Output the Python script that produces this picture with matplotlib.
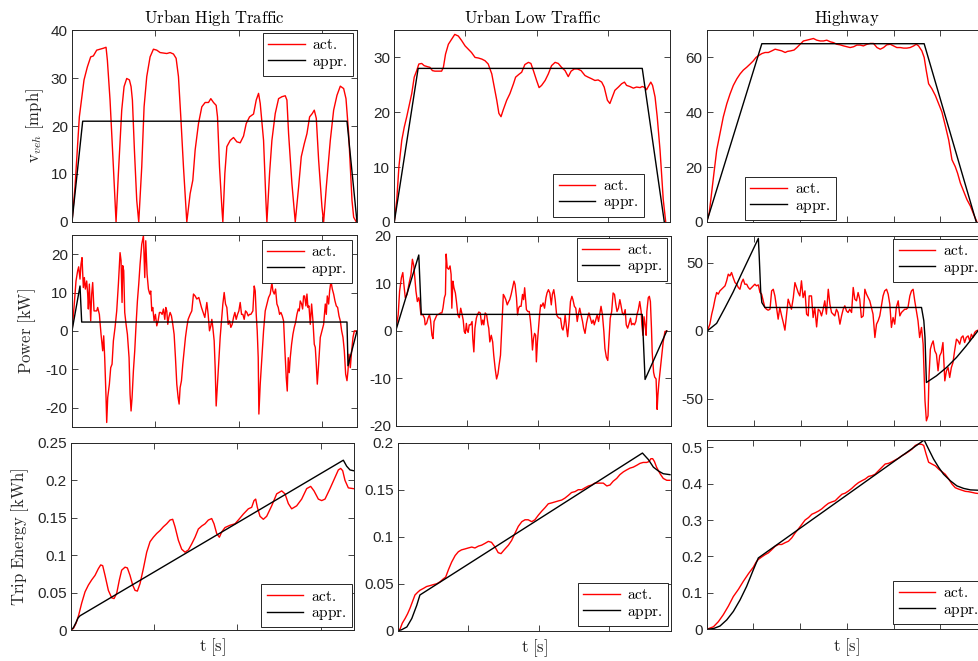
import matplotlib.pyplot as plt
from matplotlib.ticker import MultipleLocator, FuncFormatter, NullFormatter

plt.rcParams['mathtext.fontset'] = 'cm'
plt.rcParams['font.family'] = ['Liberation Sans', 'DejaVu Sans']
plt.rcParams['axes.unicode_minus'] = False

AX_COLOR = '#262626'

# ---------------- Urban high traffic ----------------
uh_v_t = [0, 9, 22, 36, 46, 56, 64, 74, 84, 94,
          102, 106, 114, 124, 132, 139, 149, 156, 164, 172,
          177, 181, 187, 194, 200, 209, 216, 224, 234, 244,
          254, 264, 284, 294, 304, 312, 319, 326, 334, 344,
          354, 362, 369, 379, 389, 399, 409, 416, 424, 432,
          436, 442, 449, 452, 458, 464, 474, 484, 494, 504,
          514, 522, 532, 544, 552, 559, 564, 574, 581, 584,
          592, 599, 609, 619, 629, 639, 644, 649, 659, 669,
          679, 687, 696, 704, 712, 720, 726, 732, 739, 749,
          754, 762, 774, 784, 794, 804, 814, 821, 829, 839,
          844, 852]
uh_v_act = [0, 7.3, 21.9, 29.6, 32.3, 34.4, 34.6, 35.8, 36.0, 36.2,
            36.4, 33.7, 25.4, 11.5, 0, 10.1, 23.3, 28.2, 29.9, 29.6,
            28.2, 25.4, 15.0, 4.5, 0, 11.5, 24.0, 30.3, 34.4, 36.0,
            35.8, 35.3, 35.1, 35.3, 35.0, 34.1, 30.3, 21.9, 11.5, 0,
            5.9, 8.7, 15.0, 20.5, 24.0, 24.9, 24.9, 25.7, 24.9, 24.3,
            21.9, 11.5, 3.1, 0, 10.1, 15.7, 17.0, 17.6, 16.7, 16.5,
            17.9, 20.5, 21.9, 22.5, 25.4, 26.8, 24.7, 17.0, 4.5, 0,
            10.1, 17.0, 22.6, 25.7, 26.1, 26.3, 25.4, 18.4, 8.0, 0,
            7.3, 13.6, 16.3, 18.4, 21.9, 22.6, 23.3, 21.6, 12.9, 3.1,
            0, 7.3, 17.0, 23.3, 26.4, 28.3, 27.8, 25.7, 18.4, 4.5,
            1.0, 0]
uh_v_appr_t = [0, 32, 824, 854]
uh_v_appr = [0, 21, 21, 0]

uh_p_t = [0, 6, 12, 17, 20, 24, 27, 30, 34, 37,
          40, 44, 47, 49, 52, 56, 59, 62, 66, 70,
          74, 77, 82, 87, 92, 95, 98, 102, 104, 107,
          112, 116, 120, 124, 129, 134, 139, 144, 147, 150,
          152, 155, 158, 162, 166, 171, 174, 177, 180, 184,
          188, 192, 196, 200, 204, 209, 214, 218, 221, 225,
          229, 233, 236, 239, 242, 246, 250, 254, 258, 262,
          266, 270, 274, 278, 281, 284, 287, 290, 294, 298,
          302, 306, 310, 314, 318, 321, 324, 328, 332, 336,
          340, 344, 348, 354, 359, 364, 369, 374, 380, 384,
          388, 393, 398, 404, 408, 412, 416, 419, 422, 426,
          429, 432, 436, 440, 444, 448, 452, 456, 460, 464,
          468, 472, 476, 480, 484, 488, 492, 496, 500, 504,
          508, 512, 516, 520, 524, 528, 532, 536, 542, 546,
          549, 552, 555, 558, 560, 564, 569, 574, 579, 584,
          589, 594, 599, 602, 606, 610, 614, 618, 622, 626,
          630, 634, 638, 642, 645, 648, 651, 654, 658, 662,
          666, 670, 674, 678, 681, 684, 688, 691, 694, 697,
          701, 704, 707, 710, 714, 718, 722, 726, 729, 732,
          735, 739, 744, 749, 754, 759, 762, 765, 769, 772,
          776, 780, 784, 788, 792, 796, 800, 804, 808, 812,
          816, 820, 824, 827, 830, 834, 838, 842, 846, 850, 854]
uh_p_act = [0, 6.1, 13.0, 15.7, 16.7, 13.5, 17.4, 19.1, 11.3, 13.9,
            10.9, 13.0, 9.6, 5.7, 12.2, 2.6, 9.6, 12.6, 5.2, 5.2,
            5.2, 6.1, 4.3, -0.9, -5.2, -1.3, -7.0, -17.4, -23.9, -17.4,
            -13.9, -9.6, -8.7, -2.6, 0.9, 5.2, 12.2, 20.4, 18.3, 7.4,
            17.0, 15.7, 4.8, 1.7, -0.9, -7.0, -16.5, -20.9, -17.4, -10.4,
            -5.2, 1.7, 7.8, 12.2, 17.4, 22.6, 24.8, 13.9, 23.5, 14.8,
            10.9, 9.6, 10.4, 5.2, 6.1, 2.6, 4.3, 1.3, 2.6, 4.8,
            4.8, 4.3, 5.7, 3.0, 6.1, 5.2, 1.7, 3.5, 4.8, 3.9,
            1.7, -0.9, -7.0, -13.9, -17.4, -19.1, -14.8, -13.0, -8.7, -5.2,
            -1.7, 0.9, 3.0, 4.3, 5.2, 9.6, 9.1, 8.3, 8.7, 7.4,
            6.1, 4.8, 3.5, 7.4, 4.3, 0, 1.3, 3.0, 0.9, -2.6,
            -9.6, -19.6, -13.9, -7.8, -1.7, 2.6, 7.0, 10.0, 7.0, 6.1,
            1.7, 2.6, 0.9, 1.7, 3.5, 4.8, 3.0, 4.3, 5.2, 7.4,
            4.3, 4.3, 3.0, 5.2, 4.8, 3.9, 4.3, 4.3, 5.2, 11.7,
            10.4, 4.3, 0, -7.0, -21.7, -13.9, -7.0, 0, 5.2, 7.0,
            8.7, 9.6, 12.6, 10.4, 9.6, 10.9, 7.0, 6.1, 4.3, 4.8,
            3.9, 2.6, -5.2, -12.2, -15.7, -7.0, -10.9, -7.0, -3.5, -0.9,
            0.9, 2.2, 4.3, 5.7, 5.2, 7.8, 7.0, 5.7, 9.1, 9.1,
            6.5, 9.6, 6.1, 6.5, 1.7, 7.0, 2.6, -3.5, -4.3, -8.7,
            -13.9, -8.7, -1.7, 0, 1.7, 7.0, 4.3, 9.1, 7.0, 10.4,
            13.0, 10.9, 9.6, 7.8, 6.5, 6.1, 3.9, 2.6, 0, -1.7,
            -5.2, -11.3, -13.0, -10.4, -6.1, -9.6, -5.2, -1.7, 0, 0, -0.4]
uh_p_appr_t = [0, 24, 29, 824, 827, 854]
uh_p_appr = [0, 11.7, 2.3, 2.3, -9.1, 0]

uh_e_t = [0, 8, 16, 24, 33, 43, 53, 63, 73, 83,
          90, 96, 103, 113, 123, 130, 138, 146, 153, 163,
          170, 178, 186, 193, 200, 208, 218, 228, 238, 248,
          258, 268, 278, 288, 298, 306, 313, 323, 333, 343,
          353, 363, 373, 383, 393, 403, 413, 423, 430, 438,
          446, 453, 463, 478, 493, 503, 518, 533, 543, 550,
          555, 560, 568, 578, 588, 603, 618, 633, 643, 653,
          663, 678, 693, 708, 720, 730, 743, 753, 763, 778,
          793, 803, 810, 816, 823, 833, 848]
uh_e_act = [0, 0.002, 0.009, 0.020, 0.036, 0.051, 0.060, 0.067, 0.073, 0.082,
            0.087, 0.086, 0.073, 0.053, 0.043, 0.042, 0.049, 0.067, 0.080, 0.084,
            0.083, 0.073, 0.060, 0.053, 0.052, 0.062, 0.082, 0.104, 0.118, 0.124,
            0.129, 0.133, 0.138, 0.142, 0.147, 0.148, 0.138, 0.120, 0.108, 0.104,
            0.107, 0.115, 0.124, 0.135, 0.139, 0.142, 0.147, 0.149, 0.142, 0.129,
            0.124, 0.131, 0.137, 0.140, 0.142, 0.147, 0.155, 0.162, 0.164, 0.173,
            0.175, 0.164, 0.152, 0.148, 0.152, 0.166, 0.182, 0.186, 0.182, 0.169,
            0.162, 0.166, 0.175, 0.189, 0.192, 0.186, 0.175, 0.173, 0.175, 0.189,
            0.204, 0.214, 0.216, 0.213, 0.200, 0.190, 0.189]
uh_e_appr_t = [0, 8, 16, 22, 28, 818, 828, 838, 848]
uh_e_appr = [0, 0.003, 0.010, 0.016, 0.019, 0.227, 0.219, 0.214, 0.213]

# ---------------- Urban low traffic ----------------
ul_v_t = [0, 7, 13, 21, 28, 35, 41, 49, 56, 63,
          69, 77, 84, 94, 100, 107, 114, 124, 133, 138,
          144, 152, 161, 170, 180, 189, 199, 208, 217, 227,
          236, 246, 255, 264, 274, 281, 288, 294, 300, 306,
          316, 325, 335, 341, 350, 358, 367, 377, 384, 391,
          400, 407, 414, 424, 433, 442, 452, 461, 470, 480,
          489, 497, 506, 515, 525, 536, 545, 555, 564, 573,
          583, 590, 599, 606, 613, 620, 630, 639, 647, 653,
          662, 672, 681, 691, 697, 705, 709, 714, 721, 726,
          733, 739, 747, 756, 763]
ul_v_act = [0, 4.1, 10.1, 14.9, 17.3, 19.2, 21.0, 23.4, 26.4, 27.6,
            28.8, 28.9, 28.5, 28.3, 28.2, 27.6, 27.5, 27.5, 27.5, 28.2,
            30.6, 32.4, 33.3, 34.2, 33.9, 33.1, 32.1, 31.5, 30.9, 30.0,
            29.9, 29.7, 29.4, 28.8, 27.0, 24.6, 22.2, 19.8, 19.2, 20.4,
            22.2, 23.4, 25.2, 26.4, 26.9, 27.3, 28.7, 29.1, 28.9, 27.6,
            25.8, 24.5, 24.9, 25.8, 27.0, 28.5, 29.1, 28.9, 28.2, 27.6,
            26.5, 27.5, 27.9, 27.9, 27.6, 26.7, 26.4, 26.1, 25.8, 25.9,
            25.5, 24.6, 22.2, 21.6, 22.8, 24.0, 24.6, 25.2, 25.5, 24.9,
            24.7, 24.4, 24.6, 24.5, 24.7, 24.5, 24.1, 24.7, 25.5, 24.9,
            22.8, 19.2, 13.1, 4.1, 0]
ul_v_appr_t = [0, 67, 697, 759]
ul_v_appr = [0, 28, 28, 0]

ul_p_t = [0, 7, 11, 16, 20, 23, 27, 32, 37, 39,
          43, 47, 51, 53, 57, 61, 65, 67, 71, 76,
          81, 83, 87, 91, 95, 98, 102, 105, 108, 112,
          116, 121, 126, 130, 133, 137, 140, 142, 145, 149,
          153, 156, 158, 161, 164, 168, 171, 175, 179, 183,
          186, 190, 193, 196, 199, 201, 204, 207, 211, 215,
          217, 220, 223, 227, 230, 234, 238, 242, 245, 248,
          252, 256, 260, 262, 265, 269, 273, 276, 280, 284,
          288, 291, 295, 299, 303, 306, 310, 314, 318, 321,
          325, 329, 333, 336, 340, 343, 346, 349, 353, 357,
          360, 363, 365, 368, 372, 376, 379, 382, 385, 388,
          391, 394, 396, 399, 402, 405, 408, 411, 415, 419,
          423, 426, 430, 434, 438, 441, 445, 449, 453, 456,
          460, 464, 468, 471, 474, 477, 481, 484, 488, 492,
          496, 499, 503, 507, 511, 514, 518, 522, 526, 529,
          533, 537, 541, 544, 548, 552, 556, 559, 563, 567,
          571, 574, 578, 582, 586, 589, 593, 597, 601, 604,
          608, 612, 616, 619, 623, 627, 631, 634, 638, 642,
          646, 649, 653, 657, 661, 664, 668, 672, 676, 679,
          683, 687, 691, 693, 696, 699, 702, 705, 707, 711,
          714, 717, 720, 722, 726, 729, 733, 736, 738, 741,
          745, 749, 753, 758, 763]
ul_p_act = [0, 3.4, 8.4, 11.2, 12.3, 9.8, 7.0, 7.7, 9.8, 10.5,
            11.9, 15.1, 13.7, 11.9, 8.4, 6.2, 7.0, 6.2, 3.4, 3.5,
            2.7, 1.3, 1.6, 2.7, 3.4, 2.3, -0.9, -1.6, 2.0, 2.7,
            3.4, 3.5, 3.8, 3.8, 4.8, 7.0, 7.7, 16.2, 13.3, 13.0,
            13.7, 11.9, 4.8, 10.5, 9.1, 8.0, 6.2, 3.4, 2.8, 4.8,
            3.8, 2.3, -0.1, -0.5, 1.6, 0.2, -0.3, 1.3, 1.3, 2.0,
            -1.6, -4.4, 0.6, 2.7, 3.4, 4.0, 3.8, 1.3, 2.3, 1.3,
            3.8, 3.4, 1.3, 0.6, -2.3, -0.9, -2.3, -5.1, -7.9, -10.1,
            -9.0, -7.2, -5.1, 1.3, 7.7, 7.3, 6.6, 5.5, 6.2, 6.6,
            7.7, 9.1, 10.5, 9.8, 7.0, 3.4, 4.8, 5.2, 5.2, 7.7,
            6.6, 9.1, 7.3, 4.5, 4.1, 4.1, 2.3, -0.1, -4.0, -1.6,
            -0.5, -0.9, -6.5, -2.3, 0.6, 3.4, 5.5, 5.2, 5.9, 4.8,
            7.0, 8.0, 8.7, 8.0, 5.5, 7.7, 8.7, 6.6, 3.4, 3.0,
            2.7, 2.7, 0.6, 0.2, 1.3, 3.4, 0.6, -1.2, 2.0, 6.2,
            7.3, 6.6, 5.2, 4.8, 2.0, 3.4, 4.8, 3.4, 2.0, 0.6,
            -0.5, 1.6, 3.0, 3.8, 2.7, 1.6, 2.3, 1.3, 2.3, 3.4,
            2.0, 3.4, 5.2, 3.4, -0.1, -3.7, -5.5, -6.2, -0.9, 2.7,
            4.1, 8.0, 7.7, 5.9, 4.1, 4.8, 6.6, 5.5, 3.8, 3.4,
            4.5, 1.3, 0.6, 1.6, 2.7, 1.3, 1.6, 1.3, 2.0, 3.4,
            4.5, 6.2, 4.1, 1.3, -0.9, 3.0, 1.3, -0.9, 4.1, 7.0,
            7.3, 6.2, 0.6, -4.4, -8.7, -9.7, -10.1, -16.5, -13.6, -10.8,
            -7.9, -5.1, -2.3, -0.1, 0]
ul_p_appr_t = [0, 65, 72, 694, 702, 763]
ul_p_appr = [0, 16.0, 3.5, 3.5, -10.2, 0]

ul_e_t = [0, 7, 13, 21, 28, 35, 42, 49, 57, 63,
          73, 82, 92, 101, 111, 120, 129, 136, 144, 153,
          163, 172, 181, 191, 200, 210, 219, 229, 238, 248,
          257, 266, 276, 285, 293, 302, 314, 323, 333, 342,
          352, 361, 370, 380, 389, 399, 408, 418, 427, 437,
          446, 455, 465, 474, 484, 493, 503, 512, 522, 531,
          541, 550, 559, 574, 583, 593, 602, 611, 621, 630,
          640, 649, 659, 668, 678, 687, 696, 706, 713, 718,
          723, 728, 734, 744, 753, 763, 772]
ul_e_act = [0, 0.002, 0.008, 0.013, 0.018, 0.024, 0.031, 0.038, 0.041, 0.043,
            0.045, 0.047, 0.048, 0.049, 0.050, 0.052, 0.055, 0.057, 0.065, 0.073,
            0.080, 0.084, 0.086, 0.087, 0.088, 0.089, 0.088, 0.090, 0.091, 0.093,
            0.095, 0.094, 0.089, 0.083, 0.082, 0.086, 0.091, 0.096, 0.104, 0.111,
            0.116, 0.118, 0.118, 0.116, 0.118, 0.123, 0.127, 0.131, 0.135, 0.136,
            0.137, 0.138, 0.139, 0.141, 0.144, 0.147, 0.148, 0.150, 0.150, 0.152,
            0.154, 0.155, 0.157, 0.157, 0.157, 0.154, 0.155, 0.159, 0.162, 0.166,
            0.169, 0.171, 0.173, 0.174, 0.176, 0.178, 0.179, 0.179, 0.180, 0.183,
            0.183, 0.180, 0.174, 0.167, 0.162, 0.160, 0.160]
ul_e_appr_t = [0, 11, 26, 40, 54, 63, 694, 711, 725, 739, 753, 772]
ul_e_appr = [0, 0.001, 0.004, 0.013, 0.027, 0.038, 0.189, 0.182, 0.174, 0.170, 0.167, 0.166]

# ---------------- Highway ----------------
hw_v_t = [0, 11, 21, 31, 43, 57, 71, 86, 100, 114,
          129, 143, 157, 171, 186, 200, 211, 221, 236, 250,
          264, 279, 293, 307, 321, 336, 346, 360, 374, 386,
          400, 414, 429, 443, 457, 471, 486, 500, 514, 529,
          543, 557, 571, 586, 600, 614, 629, 643, 657, 671,
          686, 700, 714, 729, 743, 757, 771, 786, 800, 814,
          829, 843, 857, 871, 886, 897, 907, 921, 931, 940,
          950, 964, 979, 993, 1007, 1021, 1036, 1050, 1064, 1074,
          1086, 1100, 1114, 1129, 1143, 1157]
hw_v_act = [0, 3.4, 10.6, 17.8, 26.3, 32.3, 38.3, 43.1, 46.7, 49.8,
            52.2, 54.0, 55.4, 56.4, 57.6, 58.8, 60.0, 60.6, 61.4, 61.8,
            61.8, 62.4, 63.0, 62.7, 62.4, 61.8, 62.2, 62.4, 62.7, 63.6,
            64.8, 66.0, 66.3, 66.6, 66.9, 66.3, 66.0, 66.0, 66.3, 65.7,
            65.4, 64.8, 64.6, 64.2, 63.9, 63.6, 63.9, 64.5, 64.5, 64.2,
            64.8, 65.1, 65.1, 63.6, 63.0, 63.6, 64.6, 64.8, 64.2, 63.6,
            63.6, 63.4, 63.4, 63.6, 64.2, 64.8, 64.2, 62.4, 60.0, 55.2,
            50.4, 48.6, 46.1, 43.1, 40.1, 35.3, 29.9, 22.7, 20.2, 17.8,
            14.2, 11.2, 8.2, 5.8, 2.8, 0]
hw_v_appr_t = [0, 236, 931, 1154]
hw_v_appr = [0, 65, 65, 0]

hw_p_t = [0, 11, 19, 26, 33, 40, 47, 54, 61, 69,
          76, 83, 90, 97, 104, 111, 119, 126, 133, 140,
          147, 154, 161, 169, 176, 183, 190, 197, 204, 211,
          219, 226, 233, 240, 247, 254, 261, 269, 276, 283,
          290, 297, 304, 311, 319, 326, 333, 340, 347, 354,
          361, 369, 376, 383, 390, 397, 404, 411, 419, 426,
          433, 437, 447, 454, 461, 469, 476, 483, 490, 497,
          504, 511, 519, 526, 533, 540, 547, 554, 561, 569,
          576, 583, 590, 597, 604, 611, 619, 626, 633, 640,
          647, 654, 661, 669, 676, 683, 690, 697, 704, 711,
          719, 726, 733, 740, 747, 754, 761, 769, 776, 783,
          790, 797, 804, 811, 819, 826, 833, 840, 847, 854,
          861, 869, 876, 883, 890, 897, 904, 911, 919, 926,
          930, 934, 940, 947, 951, 957, 963, 969, 976, 983,
          990, 997, 1004, 1011, 1019, 1026, 1033, 1040, 1047, 1054,
          1061, 1069, 1076, 1083, 1090, 1097, 1104, 1111, 1119, 1126,
          1133, 1140, 1147, 1154, 1161]
hw_p_act = [0, 4.9, 12.3, 17.2, 23.3, 28.2, 27.0, 29.4, 30.6, 31.9,
            33.1, 36.8, 41.7, 40.4, 42.9, 39.2, 35.5, 34.3, 31.9, 30.6,
            35.5, 38.0, 34.3, 34.3, 31.9, 30.6, 31.9, 33.1, 34.3, 33.1,
            33.8, 28.2, 27.0, 22.1, 17.2, 15.9, 15.2, 15.9, 29.4, 30.6,
            25.7, 17.2, 8.6, 17.2, 11.0, 6.1, 0.5, 12.3, 23.3, 19.6,
            15.9, 24.5, 35.5, 31.9, 28.2, 25.7, 36.8, 24.5, 29.4, 12.3,
            11.0, 25.7, 25.7, 9.8, 17.2, 2.9, 15.9, 14.7, 11.0, 15.9,
            22.1, 12.3, 30.6, 19.6, 13.5, 12.3, 11.0, 15.9, 13.5, 4.9,
            11.0, 15.9, 18.4, 14.7, 13.5, 15.9, 13.5, 31.9, 23.3, 22.1,
            28.2, 23.3, 9.8, 11.0, 30.6, 27.0, 24.5, 22.1, 17.2, 12.3,
            -4.9, 4.9, 7.4, 11.0, 18.4, 25.7, 29.4, 30.6, 27.0, 19.6,
            2.5, 9.8, 4.9, 17.2, 22.1, 11.0, 13.5, 14.7, 15.9, 15.9,
            17.2, 25.7, 29.4, 30.6, 22.1, 14.7, 7.4, -4.9, 2.5, -9.8,
            -31.9, -51.5, -66.2, -62.5, -34.3, -13.5, -9.8, -7.4, -14.7, -17.2,
            -29.4, -18.4, -15.9, -8.6, -36.8, -29.4, -27.0, -34.3, -27.0, -23.3,
            -14.7, -6.1, -7.4, -9.8, -4.9, -3.7, -8.6, -4.9, -3.7, -7.4,
            -2.5, -4.9, -1.2, 0, 0.5]
hw_p_appr_t = [0, 40, 76, 111, 147, 183, 219, 223, 229, 234, 247,
               919, 929, 934, 940, 983, 1026, 1069, 1111, 1161]
hw_p_appr = [0, 5.5, 17.0, 28.6, 42.0, 55.0, 68.0, 53.9, 29.4, 20.8, 17.2,
             17.2, 7.4, -4.9, -38.0, -33.1, -27.0, -19.6, -11.0, 0]

hw_e_t = [0, 29, 50, 71, 93, 114, 136, 157, 179, 200,
          211, 221, 236, 250, 264, 279, 293, 307, 321, 336,
          350, 364, 379, 393, 407, 421, 436, 450, 464, 479,
          493, 507, 521, 536, 550, 564, 579, 593, 607, 621,
          636, 650, 664, 679, 693, 707, 721, 736, 750, 764,
          779, 793, 807, 821, 836, 850, 864, 879, 893, 907,
          921, 929, 939, 950, 964, 979, 993, 1007, 1021, 1036,
          1050, 1064, 1079, 1093, 1107, 1121, 1136, 1150, 1164]
hw_e_act = [0, 0.007, 0.021, 0.040, 0.064, 0.090, 0.110, 0.132, 0.153, 0.171,
            0.184, 0.192, 0.199, 0.205, 0.210, 0.219, 0.228, 0.233, 0.233, 0.238,
            0.242, 0.251, 0.265, 0.276, 0.288, 0.300, 0.307, 0.316, 0.320, 0.325,
            0.331, 0.339, 0.346, 0.350, 0.353, 0.362, 0.371, 0.374, 0.380, 0.387,
            0.396, 0.403, 0.408, 0.413, 0.420, 0.422, 0.426, 0.436, 0.445, 0.454,
            0.456, 0.460, 0.465, 0.470, 0.477, 0.482, 0.488, 0.495, 0.505, 0.509,
            0.508, 0.505, 0.482, 0.459, 0.454, 0.449, 0.440, 0.433, 0.426, 0.413,
            0.399, 0.389, 0.385, 0.382, 0.379, 0.378, 0.376, 0.374, 0.373]
hw_e_appr_t = [0, 29, 57, 86, 114, 143, 171, 200, 221, 931,
               950, 971, 993, 1014, 1043, 1071, 1100, 1129, 1164]
hw_e_appr = [0, 0.002, 0.009, 0.026, 0.049, 0.081, 0.118, 0.164, 0.196, 0.520,
             0.495, 0.468, 0.445, 0.426, 0.408, 0.394, 0.387, 0.383, 0.382]

titles = ['Urban High Traffic', 'Urban Low Traffic', 'Highway']
ylabels = [r'$\mathrm{v}_{veh}\ \mathrm{[mph]}$', r'$\mathrm{Power\ [kW]}$',
           r'$\mathrm{Trip\ Energy\ [kWh]}$']

fig = plt.figure(figsize=(9.79, 6.61), dpi=100)
W, H = 979.0, 661.0


def make_axes(left, top, right, bottom):
    return fig.add_axes([left / W, 1 - bottom / H, (right - left) / W, (bottom - top) / H])


def draw(ax, t_act, y_act, t_appr, y_appr, xlim, xstep, ylim, ystep, loc, anchor):
    ax.plot(t_act, y_act, color='#ff0000', lw=1.0, label=r'$\mathrm{act.}$')
    ax.plot(t_appr, y_appr, color='k', lw=1.0, label=r'$\mathrm{appr.}$')
    ax.set_xlim(xlim)
    ax.set_ylim(ylim)
    ax.xaxis.set_major_locator(MultipleLocator(xstep))
    ax.yaxis.set_major_locator(MultipleLocator(ystep))
    ax.xaxis.set_major_formatter(NullFormatter())
    ax.yaxis.set_major_formatter(FuncFormatter(lambda v, p: f'{round(v, 6) + 0.0:g}'))
    ax.tick_params(direction='in', top=True, right=True, length=4, width=0.6,
                   color=AX_COLOR, labelcolor=AX_COLOR, labelsize=11, pad=3)
    for sp in ax.spines.values():
        sp.set_color(AX_COLOR)
        sp.set_linewidth(0.7)
    leg = ax.legend(loc=loc, bbox_to_anchor=anchor, fontsize=11, fancybox=False,
                    framealpha=1, edgecolor=AX_COLOR, borderaxespad=0, borderpad=0.35,
                    labelspacing=0.15, handlelength=2.4, handletextpad=0.5)
    leg.get_frame().set_linewidth(0.7)


# speed row
ax = make_axes(72, 30, 357, 222)
draw(ax, uh_v_t, uh_v_act, uh_v_appr_t, uh_v_appr, (0, 854), 250, (0, 40), 10,
     'upper right', (0.986, 0.984))
ax.set_title(r'$\mathrm{Urban\ High\ Traffic}$', fontsize=12, pad=5)
ax.set_ylabel(ylabels[0], fontsize=12, color=AX_COLOR, va='center')
ax.yaxis.set_label_coords(-0.13, 0.5)

ax = make_axes(394.3, 30, 670, 222)
draw(ax, ul_v_t, ul_v_act, ul_v_appr_t, ul_v_appr, (0, 775), 200, (0, 35), 10,
     'lower right', (0.905, 0.028))
ax.set_title(r'$\mathrm{Urban\ Low\ Traffic}$', fontsize=12, pad=5)

ax = make_axes(706.7, 30, 987, 222)
draw(ax, hw_v_t, hw_v_act, hw_v_appr_t, hw_v_appr, (0, 1200), 200, (0, 70), 20,
     'lower left', (0.137, 0.01))
ax.set_title(r'$\mathrm{Highway}$', fontsize=12, pad=5)

# power row
ax = make_axes(72, 235, 357, 426.7)
draw(ax, uh_p_t, uh_p_act, uh_p_appr_t, uh_p_appr, (0, 854), 250, (-25, 25), 10,
     'upper right', (0.983, 0.974))
ax.set_ylabel(ylabels[1], fontsize=12, color=AX_COLOR, va='center')
ax.yaxis.set_label_coords(-0.156, 0.5)

ax = make_axes(395.7, 236, 671, 426)
draw(ax, ul_p_t, ul_p_act, ul_p_appr_t, ul_p_appr, (0, 775), 200, (-20, 20), 10,
     'upper right', (0.987, 0.991))

ax = make_axes(707.3, 235.7, 987, 426)
draw(ax, hw_p_t, hw_p_act, hw_p_appr_t, hw_p_appr, (0, 1200), 200, (-70, 70), 50,
     'upper right', (0.988, 0.983))

# energy row
ax = make_axes(70.7, 443, 354, 630)
draw(ax, uh_e_t, uh_e_act, uh_e_appr_t, uh_e_appr, (0, 850), 250, (0, 0.25), 0.05,
     'lower right', (0.992, 0.014))
ax.set_ylabel(ylabels[2], fontsize=12, color=AX_COLOR, va='center')
ax.yaxis.set_label_coords(-0.179, 0.5)

ax_mid = make_axes(397.7, 442.7, 671, 630.7)
draw(ax_mid, ul_e_t, ul_e_act, ul_e_appr_t, ul_e_appr, (0, 775), 200, (0, 0.2), 0.05,
     'lower right', (0.990, 0.025))

ax_hw = make_axes(706.7, 440, 987, 629.3)
draw(ax_hw, hw_e_t, hw_e_act, hw_e_appr_t, hw_e_appr, (0, 1200), 200, (0, 0.52), 0.1,
     'lower right', (0.988, 0.028))

for a in fig.axes[-3:]:
    a.set_xlabel(r'$\mathrm{t\ [s]}$', fontsize=12, color=AX_COLOR, va='center')
    a.xaxis.set_label_coords(0.5, -0.094)

fig.savefig('out.png', dpi=100, facecolor='white')
